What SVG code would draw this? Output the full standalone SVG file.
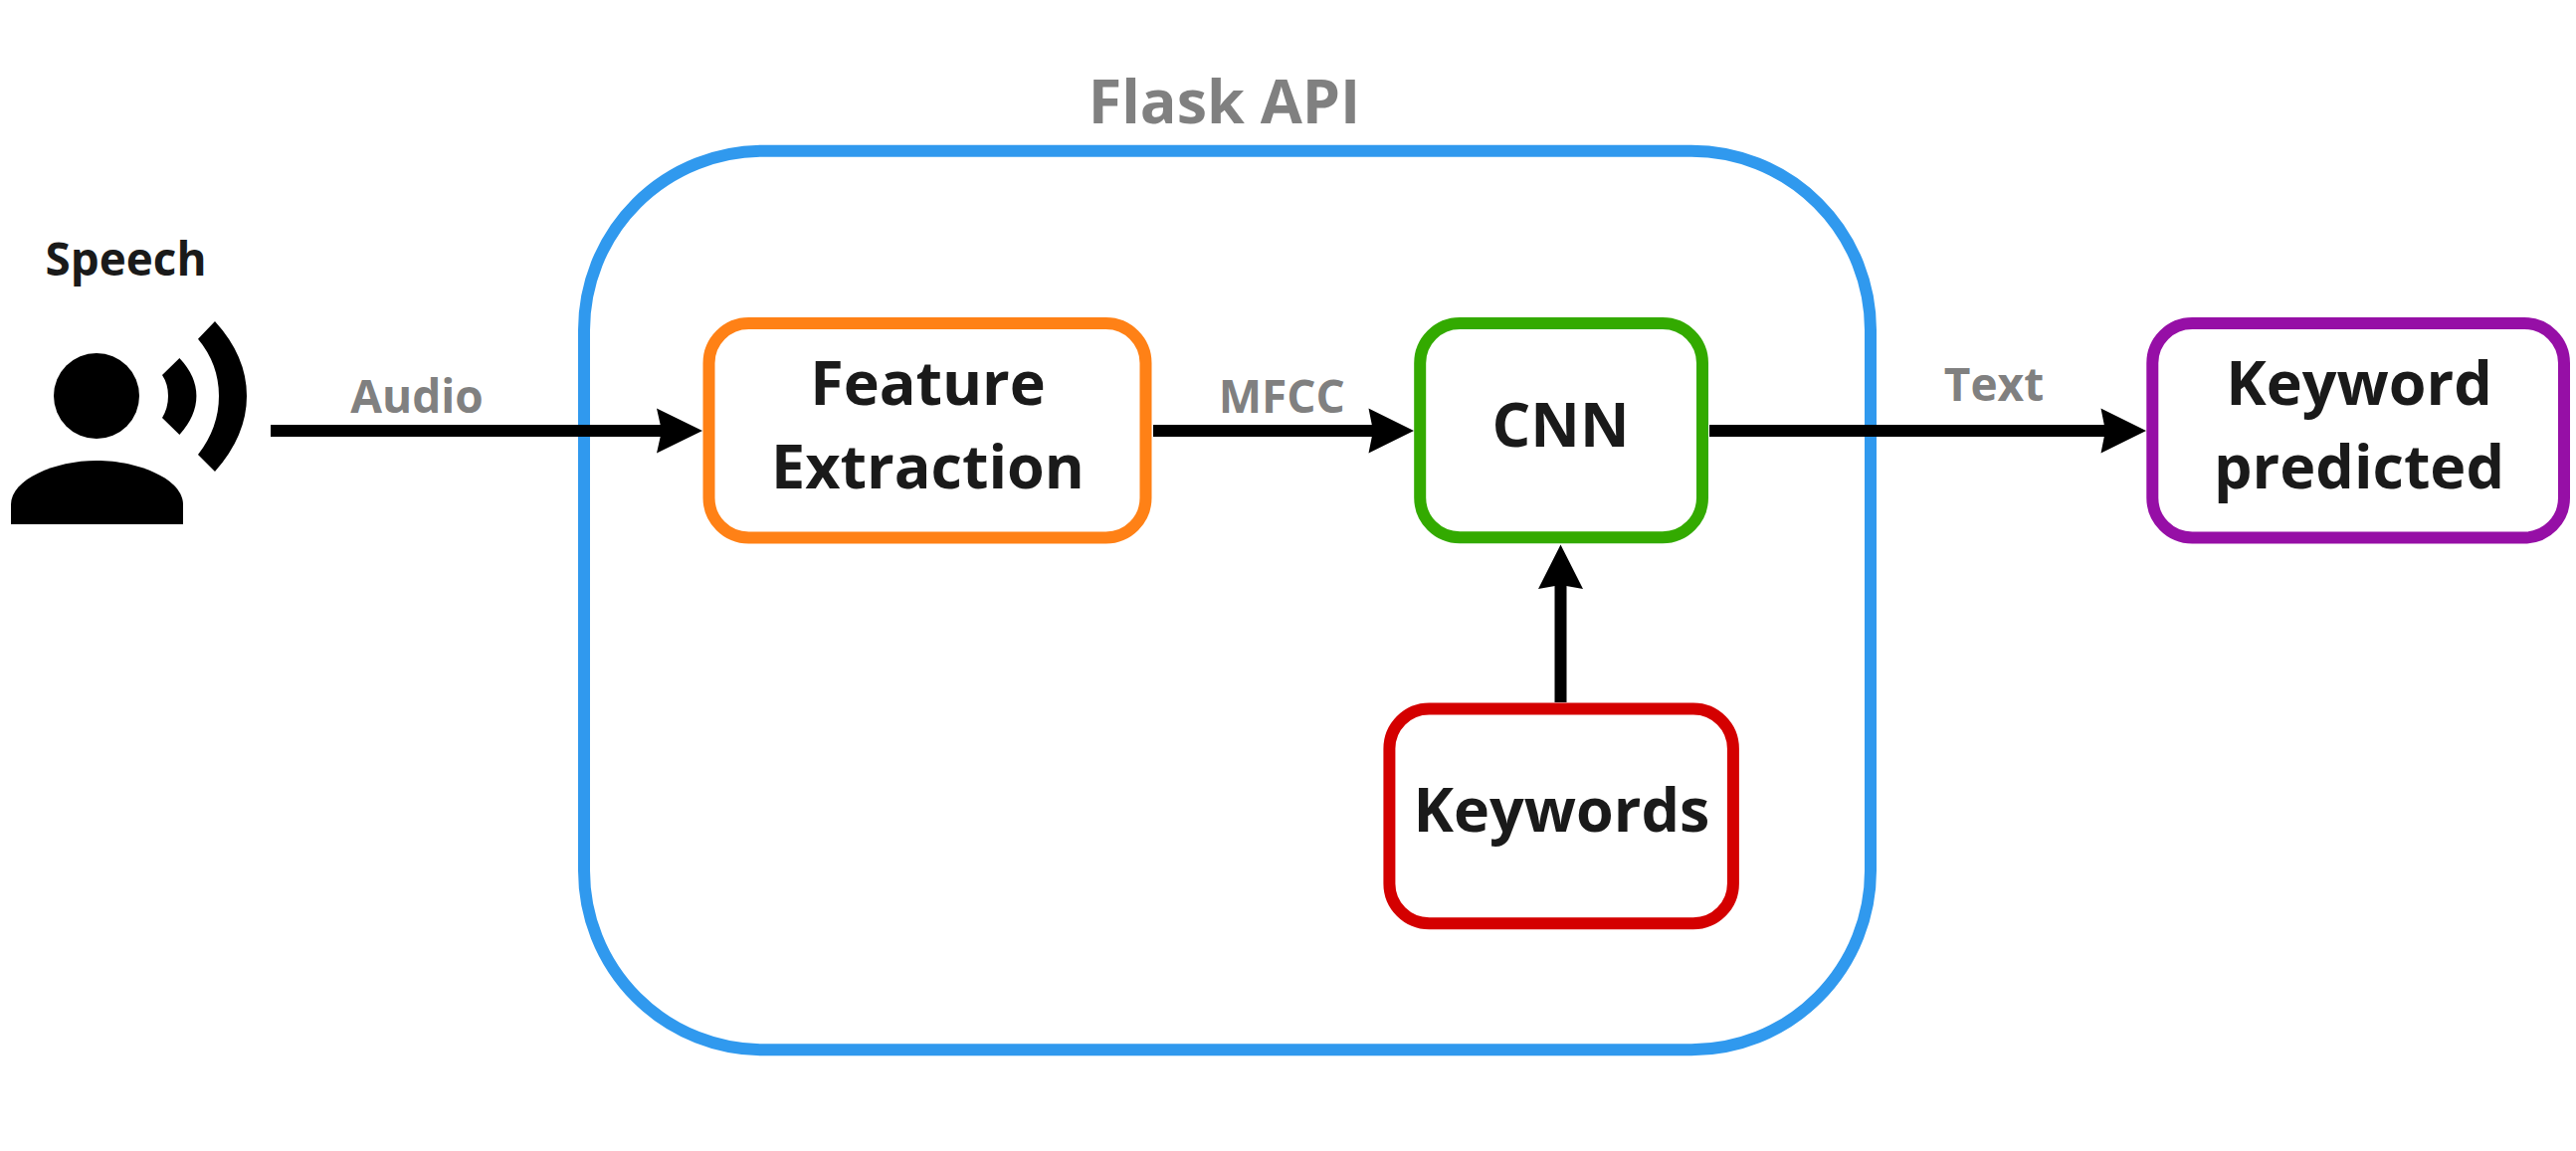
<svg xmlns="http://www.w3.org/2000/svg" width="2589" height="1157" viewBox="0 0 2589 1157">
<style>
.box{fill:none;stroke-width:12}
.t{font-family:"Open Sans","Noto Sans",sans-serif;font-weight:700;text-anchor:middle}
.n{font-size:61px;fill:#1a1a1a}
.l{font-size:46px;fill:#808080}
.line{stroke:#000;stroke-width:12;fill:none}
.head{fill:#000}
</style>
<rect width="2589" height="1157" fill="#fff"/>
<g id="flask-api"><rect class="box" x="587" y="151.700" width="1293" height="903.600" rx="180" stroke="#3099ee"/><text class="t" x="1230.500" y="124" font-size="61" fill="#808080">Flask API</text></g>
<g id="speech"><text class="t" x="126.500" y="277" font-size="45.800" fill="#1a1a1a">Speech</text>
<circle cx="97" cy="398" r="43"/>
<path d="M11 527V507C11 482 55 463 97 463C140 463 184 482 184 507V527Z"/>
<path d="M163 377L180.400 360Q197.400 378 197.400 398Q197.400 418 180.400 437L163 420Q169 410 169 398Q169 386 163 377Z"/>
<path d="M199 340.700L216 323Q248 358 248 398Q248 438 216 474L199 457Q220 430 220 398Q220 366 199 340.700Z"/></g>
<g id="connectors">
<path class="line" d="M272 433H668M1159 433H1385M1718 433H2122M1568.500 706V588"/>
<path id="ah1" class="head" d="M706 433L660 410.500L665 433L660 455.500Z"/>
<path id="ah2" class="head" d="M1421 433L1375.500 410.500L1380 433L1375.500 455.500Z"/>
<path id="ah3" class="head" d="M2157 433L2111.500 410.500L2116 433L2111.500 455.500Z"/>
<path id="ah4" class="head" d="M1568.500 547.600L1546 592L1568.500 588L1591 592Z"/>
</g>
<g id="audio-label"><text class="t l" x="419" y="415">Audio</text></g>
<g id="mfcc-label"><text class="t l" x="1288.300" y="415.300">MFCC</text></g>
<g id="text-label"><text class="t l" x="2004" y="402.700">Text</text></g>
<g id="feature-extraction"><rect class="box" x="712.500" y="325" width="439" height="215.500" rx="40" stroke="#ff8116"/><text class="t n" x="932.500" y="406.700">Feature</text><text class="t n" x="932.500" y="491">Extraction</text></g>
<g id="cnn"><rect class="box" x="1427.200" y="325" width="283.800" height="215.300" rx="40" stroke="#33aa00"/><text class="t n" x="1568.500" y="448.500">CNN</text></g>
<g id="keywords"><rect class="box" x="1396.400" y="712.500" width="345.500" height="215.700" rx="40" stroke="#d40000"/><text class="t n" x="1569.500" y="836.400">Keywords</text></g>
<g id="keyword-predicted"><rect class="box" x="2163.300" y="325" width="413.700" height="215.500" rx="40" stroke="#960fa6"/><text class="t n" x="2371" y="406.700">Keyword</text><text class="t n" x="2371" y="490.700">predicted</text></g>
</svg>
